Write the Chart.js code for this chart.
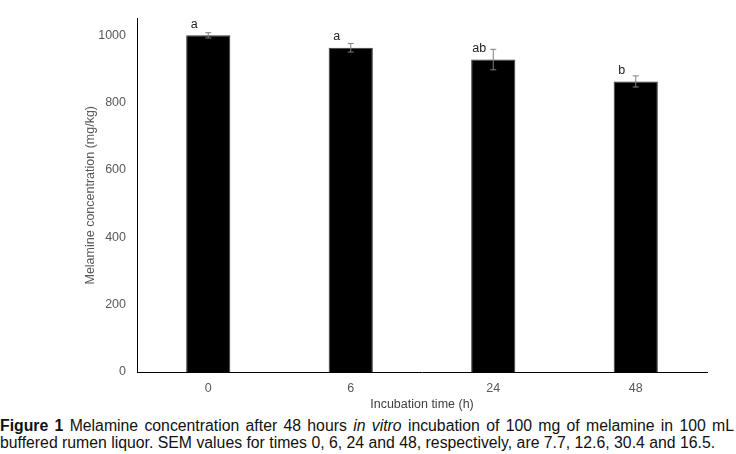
<!DOCTYPE html>
<html lang="en">
<head>
<meta charset="UTF-8">
<title>Melamine concentration</title>
<style>
    body {
        margin: 0;
        background: #fff;
        font-family: "Liberation Sans", Arial, sans-serif;
    }
    .chart-box {
        position: relative;
        width: 736px;
        height: 416px;
    }
    .caption {
        position: absolute;
        left: 0;
        top: 417px;
        width: 734px;
        font-size: 15.8px;
        line-height: 17px;
        color: #111;
        white-space: nowrap;
    }
    .caption .l1 {
        display: block;
        text-align: justify;
        text-align-last: justify;
        white-space: normal;
    }
</style>
</head>
<body>
    <div class="chart-box">
        <canvas id="melChart"></canvas>
    </div>
    <div class="caption"><span class="l1"><b>Figure 1</b> Melamine concentration after 48 hours <i>in vitro</i> incubation of 100 mg of melamine in 100 mL</span>buffered rumen liquor. SEM values for times 0, 6, 24 and 48, respectively, are 7.7, 12.6, 30.4 and 16.5.</div>

<script src="https://cdn.jsdelivr.net/npm/chart.js"></script>
<script>
// data
const categories = ["0", "6", "24", "48"];
const means = [1000, 963, 928, 863];
const sem = [7.7, 12.6, 30.4, 16.5];
const letters = ["a", "a", "ab", "b"];
const yTicks = [0, 200, 400, 600, 800, 1000];

const axisFont = { family: "'Liberation Sans', Arial, sans-serif", size: 12.5 };

// error bars + significance letters
const errorBars = {
    id: "errorBars",
    afterDatasetsDraw(chart) {
        const ctx = chart.ctx;
        const meta = chart.getDatasetMeta(0);
        const y = chart.scales.y;
        ctx.save();
        meta.data.forEach((bar, i) => {
            const top = y.getPixelForValue(means[i] + sem[i]);
            const bot = y.getPixelForValue(means[i] - sem[i]);
            ctx.strokeStyle = "#808080";
            ctx.lineWidth = 1;
            ctx.beginPath();
            ctx.moveTo(bar.x, top);
            ctx.lineTo(bar.x, bot);
            ctx.moveTo(bar.x - 3, top);
            ctx.lineTo(bar.x + 3, top);
            ctx.moveTo(bar.x - 3, bot);
            ctx.lineTo(bar.x + 3, bot);
            ctx.stroke();

            ctx.fillStyle = "#222";
            ctx.font = "12.5px 'Liberation Sans', Arial, sans-serif";
            ctx.textAlign = "center";
            ctx.textBaseline = "middle";
            ctx.fillText(letters[i], bar.x - 14, bar.y - 11);
        });
        ctx.restore();
    }
};

new Chart(document.getElementById("melChart"), {
    type: "bar",
    data: {
        labels: categories,
        datasets: [{
            data: means,
            backgroundColor: "#000",
            borderColor: "#3a3a3a",
            borderWidth: 1,
            categoryPercentage: 1,
            barPercentage: 0.31
        }]
    },
    options: {
        responsive: true,
        maintainAspectRatio: false,
        animation: false,
        layout: { padding: { top: 11, right: 29, left: 0, bottom: 0 } },
        plugins: {
            legend: { display: false },
            tooltip: { enabled: false }
        },
        scales: {
            x: {
                grid: { display: false, drawTicks: false },
                border: { display: true, color: "#000", width: 1 },
                ticks: { color: "#595959", font: axisFont, padding: 9, maxRotation: 0 },
                title: {
                    display: true,
                    text: "Incubation time (h)",
                    color: "#404040",
                    font: axisFont,
                    padding: { top: 0, bottom: 4 }
                },
                afterFit(scale) { scale.height = 44; }
            },
            y: {
                min: 0,
                max: 1050,
                grid: { display: false, drawTicks: false },
                border: { display: true, color: "#000", width: 1 },
                ticks: {
                    color: "#595959",
                    font: axisFont,
                    padding: 11,
                    callback: v => String(v)
                },
                afterBuildTicks(scale) {
                    scale.ticks = yTicks.map(v => ({ value: v }));
                },
                title: {
                    display: true,
                    text: "Melamine concentration (mg/kg)",
                    color: "#595959",
                    font: axisFont,
                    padding: { top: 83, bottom: 0 }
                },
                afterFit(scale) { scale.width = 137; }
            }
        }
    },
    plugins: [errorBars]
});
</script>
</body>
</html>
